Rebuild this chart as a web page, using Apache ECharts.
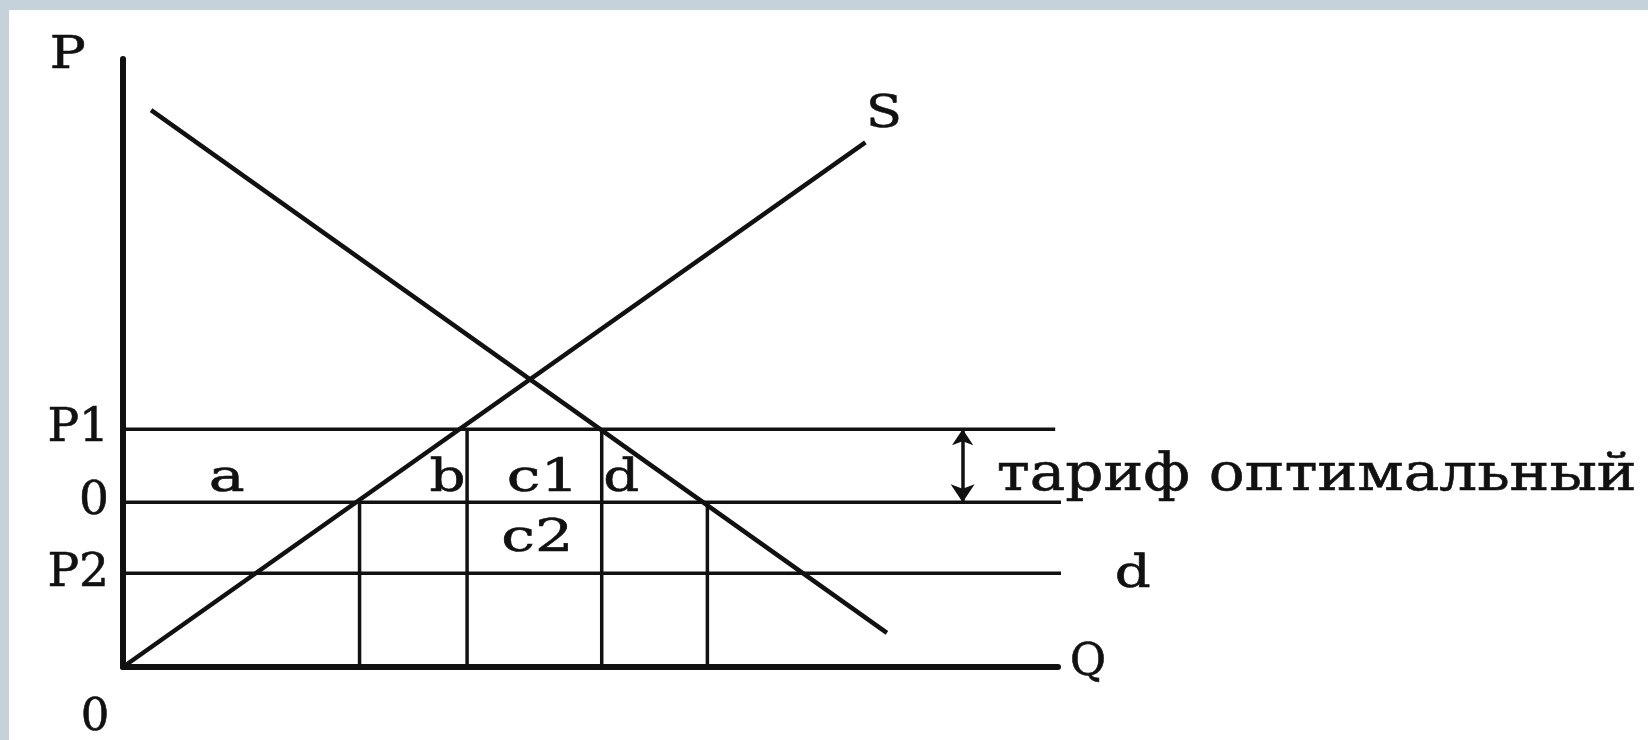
<!DOCTYPE html>
<html><head><meta charset="utf-8">
<script src="https://cdn.jsdelivr.net/npm/echarts@6/dist/echarts.min.js"></script>
<style>
html,body{margin:0;padding:0;background:#c6d2da;overflow:hidden;}
#panel{position:absolute;left:9px;top:10px;width:1639px;height:730px;background:#fff;}
#chart{position:absolute;left:0;top:0;width:1648px;height:740px;}
</style></head><body>
<div id="panel"></div><div id="chart"></div>
<script>
// ---- data (Q on x, P on y, arbitrary units 0..100) ----
const supplyQ = [0, 79.4];
const supplyP = [0, 86.3];
const demandQ = [3.0, 81.7];
const demandP = [91.6, 5.6];
const levelNames = ['P1', '0', 'P2'];
const levelValues = [39.1, 27.1, 15.4];
const levelEnds = [99.7, 104.2, 102.4];
const dropQ = [25.3, 36.8, 51.2, 62.5];
const dropTop = [27.1, 39.1, 39.1, 27.1];
const areaNames = ['a', 'b', 'c1', 'd', 'c2'];
const areaQ = [11.1, 34.7, 44.9, 53.3, 44.3];
const areaP = [30.8, 30.8, 30.9, 30.8, 21.0];
const markNames = ['P', 'S', 'Q', 'd', '0'];
const markQ = [-5.9, 81.4, 103.2, 108.0, -3.0];
const markP = [100.4, 90.7, 0.6, 15.0, -8.5];
const tariffQ = 89.8;
const tariffText = 'тариф оптимальный';

const INK = '#111111';
const FONT = "'DejaVu Serif', 'Liberation Serif', serif";
const LABEL_SIZE = 45;
const CHAR_ADV = 36;          // monospaced look of the original lettering

const ctx = document.createElement('canvas').getContext('2d');
function stretch(text, size, adv) {
  if (/^[0-9]+$/.test(text)) return 1;
  ctx.font = size + "px 'DejaVu Serif'";
  return (text.length * adv) / ctx.measureText(text).width;
}

const labelTexts = areaNames.concat(markNames);
const labelPoints = areaQ.map((q, i) => [q, areaP[i]])
  .concat(markQ.map((q, i) => [q, markP[i]]));

const chart = echarts.init(document.getElementById('chart'), null, {renderer: 'canvas'});

const series = [];
series.push({
  type: 'line', name: 'S', data: supplyQ.map((q, i) => [q, supplyP[i]]),
  symbol: 'none', clip: false, silent: true,
  lineStyle: {color: INK, width: 4.5}
});
series.push({
  type: 'line', name: 'D', data: demandQ.map((q, i) => [q, demandP[i]]),
  symbol: 'none', clip: false, silent: true,
  lineStyle: {color: INK, width: 4.5}
});
levelValues.forEach((v, i) => series.push({
  type: 'line', data: [[0, v], [levelEnds[i], v]],
  symbol: 'none', clip: false, silent: true,
  lineStyle: {color: INK, width: 3.5}
}));
dropQ.forEach((q, i) => series.push({
  type: 'line', data: [[q, 0], [q, dropTop[i]]],
  symbol: 'none', clip: false, silent: true,
  lineStyle: {color: INK, width: 3.5}
}));
series.push({
  type: 'lines', coordinateSystem: 'cartesian2d', silent: true,
  symbol: ['arrow', 'arrow'], symbolSize: [18, 16],
  lineStyle: {color: INK, width: 3.5, opacity: 1},
  data: [{coords: [[tariffQ, levelValues[1]], [tariffQ, levelValues[0]]]}]
});
// text labels placed through the axes' scales
series.push({
  type: 'custom', silent: true, clip: false,
  data: labelPoints,
  renderItem: (params, api) => {
    const pt = api.coord([api.value(0), api.value(1)]);
    const t = labelTexts[params.dataIndex];
    return {
      type: 'text', x: pt[0], y: pt[1], scaleX: stretch(t, LABEL_SIZE, CHAR_ADV),
      style: {text: t, fontFamily: FONT, fontSize: LABEL_SIZE, fill: INK,
              stroke: INK, lineWidth: 0.6, align: 'center', verticalAlign: 'middle'}
    };
  }
});
// long annotation beside the tariff arrow
const T_SIZE = 52;
series.push({
  type: 'custom', silent: true, clip: false,
  data: [[tariffQ, (levelValues[0] + levelValues[1]) / 2]],
  renderItem: (params, api) => {
    const pt = api.coord([api.value(0), api.value(1)]);
    ctx.font = T_SIZE + "px 'DejaVu Serif'";
    const w = ctx.measureText(tariffText).width;
    return {
      type: 'text', x: pt[0] + 34, y: pt[1] + 11, scaleX: 640 / w,
      style: {text: tariffText, fontFamily: FONT, fontSize: T_SIZE, fill: INK,
              stroke: INK, lineWidth: 0.6, align: 'left', verticalAlign: 'middle'}
    };
  }
});

chart.setOption({
  animation: false,
  backgroundColor: 'transparent',
  grid: {left: 123, top: 59, right: 590, bottom: 73, containLabel: false, outerBoundsMode: 'none'},
  xAxis: {
    type: 'value', min: 0, max: 100,
    splitLine: {show: false}, axisTick: {show: false}, axisLabel: {show: false},
    axisLine: {show: true, lineStyle: {color: INK, width: 6}}
  },
  yAxis: {
    type: 'value', min: 0, max: 100,
    splitLine: {show: false}, axisTick: {show: false},
    axisLine: {show: true, lineStyle: {color: INK, width: 6}},
    axisLabel: {
      show: true, customValues: levelValues, margin: 14,
      formatter: v => {
        let best = 0;
        levelValues.forEach((lv, i) => { if (Math.abs(lv - v) < Math.abs(levelValues[best] - v)) best = i; });
        return levelNames[best];
      },
      fontFamily: FONT, fontSize: LABEL_SIZE + 2, color: INK,
      textBorderColor: INK, textBorderWidth: 0.6
    }
  },
  series: series
});
</script>
</body></html>
